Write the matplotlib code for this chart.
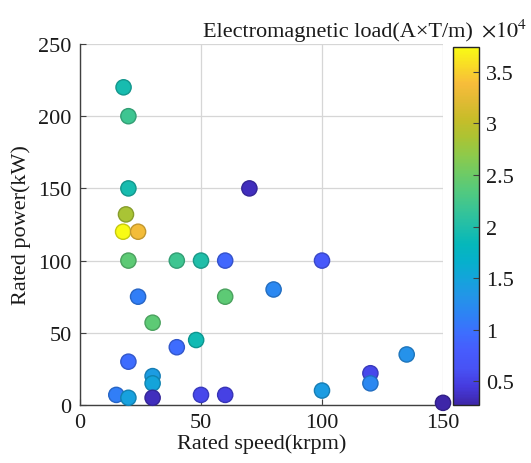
import numpy as np
import matplotlib
matplotlib.use("Agg")
import matplotlib.pyplot as plt
from matplotlib.colors import LinearSegmentedColormap, Normalize

plt.rcParams['font.family'] = ['Liberation Serif', 'DejaVu Serif']
plt.rcParams['mathtext.fontset'] = 'stix'

# Data: rated speed (krpm), rated power (kW), electromagnetic load (x1e4 A*T/m)
speed = [18, 20, 20, 19, 17.8, 24, 20, 40, 50, 60, 70, 100, 24, 80, 60, 30, 40, 48,
         20, 30, 30, 15, 20, 30, 50, 60, 100, 120, 120, 135, 150]
power = [220, 200, 150, 132, 120, 120, 100, 100, 100, 100, 150, 100, 75, 80, 75, 57, 40, 45,
         30, 20, 15, 7, 5, 5, 7, 7, 10, 22, 15, 35, 1.5]
load = [1.95, 2.2, 1.95, 2.85, 3.74, 3.35, 2.4, 2.2, 2.0, 0.9, 0.35, 0.75, 1.1, 1.2, 2.4, 2.4,
        0.95, 1.9, 0.95, 1.4, 1.5, 1.1, 1.45, 0.35, 0.55, 0.5, 1.4, 0.55, 1.2, 1.3, 0.27]

x_ticks = [0, 50, 100, 150]
y_ticks = [0, 50, 100, 150, 200, 250]
cb_ticks = [0.5, 1, 1.5, 2, 2.5, 3, 3.5]
cb_labels = ['0.5', '1', '1.5', '2', '2.5', '3', '3.5']

parula_pts = [
    (0.00, (0.2422, 0.1504, 0.6603)),
    (0.05, (0.2720, 0.2300, 0.8700)),
    (0.10, (0.2810, 0.3228, 0.9579)),
    (0.15, (0.2780, 0.3600, 0.9900)),
    (0.20, (0.2400, 0.4300, 0.9950)),
    (0.25, (0.1800, 0.5100, 0.9600)),
    (0.30, (0.1400, 0.5800, 0.9100)),
    (0.35, (0.0800, 0.6400, 0.8600)),
    (0.40, (0.0250, 0.6900, 0.8000)),
    (0.45, (0.0200, 0.7200, 0.7300)),
    (0.50, (0.1300, 0.7450, 0.6600)),
    (0.55, (0.2300, 0.7700, 0.5800)),
    (0.60, (0.3300, 0.7900, 0.4900)),
    (0.65, (0.4400, 0.7950, 0.3900)),
    (0.70, (0.5600, 0.7900, 0.2900)),
    (0.75, (0.6750, 0.7650, 0.2000)),
    (0.80, (0.7800, 0.7400, 0.1600)),
    (0.85, (0.8800, 0.7300, 0.2000)),
    (0.90, (0.9700, 0.7400, 0.2300)),
    (0.95, (0.9750, 0.8600, 0.1500)),
    (1.00, (0.9769, 0.9839, 0.0805)),
]
parula = LinearSegmentedColormap.from_list('parula', parula_pts, N=256)

fig = plt.figure(figsize=(5.31, 4.64), dpi=100)
W, H = 531, 464
ax = fig.add_axes([80 / W, (H - 406) / H, 363 / W, 361 / H])
cax = fig.add_axes([453 / W, (H - 406) / H, 26 / W, 358 / H])

norm = Normalize(vmin=0.27, vmax=3.74)
faces = parula(norm(np.array(load)))
edges = faces.copy()
edges[:, :3] = edges[:, :3] * 0.8
sc = ax.scatter(speed, power, c=load, cmap=parula, norm=norm, s=120,
                edgecolors=edges, linewidths=1.0, zorder=3, clip_on=False)

ax.set_xlim(0, 150)
ax.set_ylim(0, 250)
ax.set_xticks(x_ticks)
ax.set_yticks(y_ticks)
ax.grid(True, color='#d6d6d6', linewidth=0.9, zorder=0)
ax.set_axisbelow(True)
for side in ['top', 'right']:
    ax.spines[side].set_visible(False)
for side in ['left', 'bottom']:
    ax.spines[side].set_color('#404040')
    ax.spines[side].set_linewidth(1.0)
ax.tick_params(direction='in', length=4, width=0.8, color='#404040',
               labelsize=16, labelcolor='#1a1a1a', pad=6)
ax.set_xlabel('Rated speed(krpm)', fontsize=16, labelpad=1, color='#1a1a1a')
ax.set_ylabel('Rated power(kW)', fontsize=16, labelpad=5, color='#1a1a1a')

cb = fig.colorbar(sc, cax=cax)
cb.set_ticks(cb_ticks)
cb.set_ticklabels(cb_labels)
cb.ax.tick_params(direction='in', length=4, width=0.8, color='#404040',
                  labelsize=16, labelcolor='#1a1a1a', pad=5)
cb.outline.set_edgecolor('#262626')
cb.outline.set_linewidth(1.0)

fig.text(473 / W, (H - 37) / H, 'Electromagnetic load(A×T/m)', ha='right',
         va='baseline', fontsize=16, color='#1a1a1a')
fig.text(481 / W, (H - 37) / H, r'$\times10^{4}$', ha='left',
         va='baseline', fontsize=16, color='#1a1a1a')

fig.savefig('out.png', dpi=100)
